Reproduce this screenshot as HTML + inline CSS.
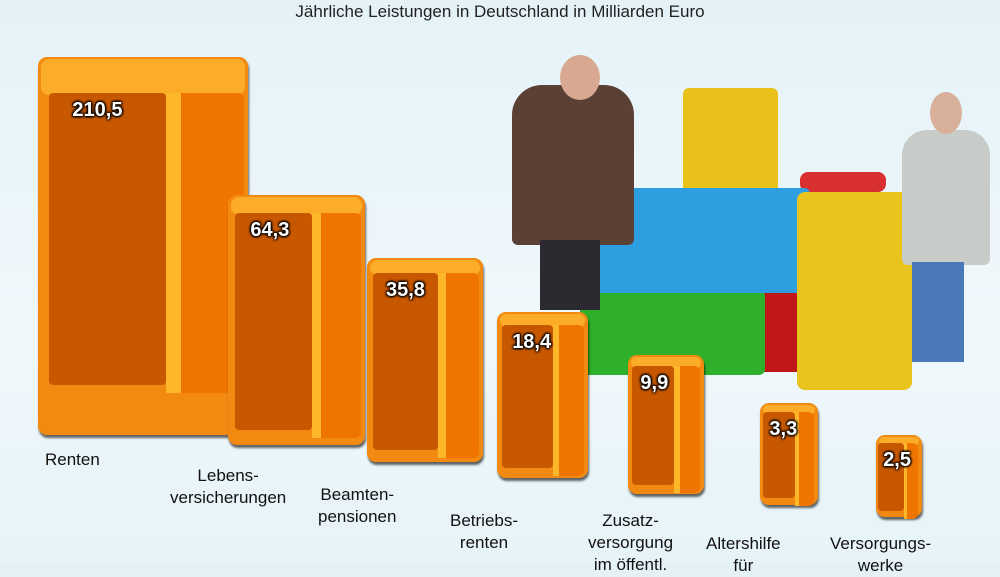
<!DOCTYPE html>
<html><head><meta charset="utf-8"><style>
body{margin:0;width:1000px;height:563px;overflow:hidden;background:linear-gradient(180deg,#e4f2f8 0%,#f0f8fb 60%,#e6f3f8 100%);font-family:"Liberation Sans",sans-serif;position:relative}
.a{position:absolute}
.v{position:absolute;color:#fff;font-weight:bold;font-size:20px;text-shadow:1px 1px 2px #000,-1px -1px 2px #000,1px -1px 2px #000,-1px 1px 2px #000}
.l{position:absolute;color:#111;font-size:17px;line-height:22px;text-align:center}
</style></head><body>
<div class="a" style="left:0;top:2px;width:1000px;text-align:center;font-size:17px;color:#222">Jährliche Leistungen in Deutschland in Milliarden Euro</div>

<div class="a" style="left:683px;top:88px;width:95px;height:105px;background:#e8c21a;border-radius:6px"></div>
<div class="a" style="left:800px;top:172px;width:86px;height:20px;background:#d83030;border-radius:8px"></div>
<div class="a" style="left:760px;top:280px;width:42px;height:92px;background:#c01818"></div>
<div class="a" style="left:580px;top:290px;width:185px;height:85px;background:#2fb02a;border-radius:6px"></div>
<div class="a" style="left:582px;top:188px;width:228px;height:105px;background:#2d9ee0;border-radius:6px"></div>
<div class="a" style="left:797px;top:192px;width:115px;height:198px;background:#e8c41c;border-radius:8px"></div>
<div class="a" style="left:512px;top:85px;width:122px;height:160px;background:#5a4035;border-radius:30px 30px 6px 6px"></div>
<div class="a" style="left:560px;top:55px;width:40px;height:45px;background:#d8a890;border-radius:50%"></div>
<div class="a" style="left:540px;top:240px;width:60px;height:70px;background:#2a2a30"></div>
<div class="a" style="left:902px;top:130px;width:88px;height:135px;background:#c8ccc8;border-radius:25px 25px 6px 6px"></div>
<div class="a" style="left:930px;top:92px;width:32px;height:42px;background:#d8b09a;border-radius:50%"></div>
<div class="a" style="left:912px;top:262px;width:52px;height:100px;background:#4a78b8"></div>

<div id="bars"></div>

<div class="l" style="left:45px;top:449px">Renten</div>
<div class="l" style="left:170px;top:465px">Lebens-<br>versicherungen</div>
<div class="l" style="left:318px;top:484px">Beamten-<br>pensionen</div>
<div class="l" style="left:450px;top:510px">Betriebs-<br>renten</div>
<div class="l" style="left:588px;top:510px">Zusatz-<br>versorgung<br>im öffentl.</div>
<div class="l" style="left:706px;top:533px">Altershilfe<br>für</div>
<div class="l" style="left:830px;top:533px">Versorgungs-<br>werke</div>
<script>
var B=[[38,248,57,435,"210,5",36,50],[228,365,195,445,"64,3",18,15],[367,483,258,462,"35,8",15,12],[497,588,312,478,"18,4",13,10],[628,704,355,494,"9,9",11,9],[760,818,403,505,"3,3",9,7],[876,922,435,517,"2,5",8,6]];
var h="";
B.forEach(function(b){var L=b[0],R=b[1],T=b[2],Bt=b[3],w=R-L,hh=Bt-T;
h+='<div class="a" style="left:'+L+'px;top:'+T+'px;width:'+w+'px;height:'+hh+'px;background:#f28a12;border-radius:9px;box-shadow:1px 3px 2px rgba(0,0,0,.6)"></div>';
h+='<div class="a" style="left:'+(L+3)+'px;top:'+(T+2)+'px;width:'+(w-6)+'px;height:'+(b[5])+'px;background:#fbad2a;border-radius:8px"></div>';
var fl=L+Math.round(w*0.05),fr=L+Math.round(w*0.61),sr=L+Math.round(w*0.68);
h+='<div class="a" style="left:'+fr+'px;top:'+(T+b[5])+'px;width:'+(sr-fr)+'px;height:'+(hh-b[5]-b[6]+8)+'px;background:#ffb72a"></div>';
h+='<div class="a" style="left:'+sr+'px;top:'+(T+b[5])+'px;width:'+(R-4-sr)+'px;height:'+(hh-b[5]-b[6]+8)+'px;background:#f07500;border-radius:0 6px 6px 0"></div>';
h+='<div class="a" style="left:'+fl+'px;top:'+(T+b[5])+'px;width:'+(fr-fl)+'px;height:'+(hh-b[5]-b[6])+'px;background:#c85800;border-radius:4px"></div>';
h+='<div class="v" style="left:'+(fl+Math.max(2,(fr-fl)*0.2))+'px;top:'+(T+b[5]+6)+'px">'+b[4]+'</div>';});
document.getElementById("bars").innerHTML=h;
</script>
</body></html>
